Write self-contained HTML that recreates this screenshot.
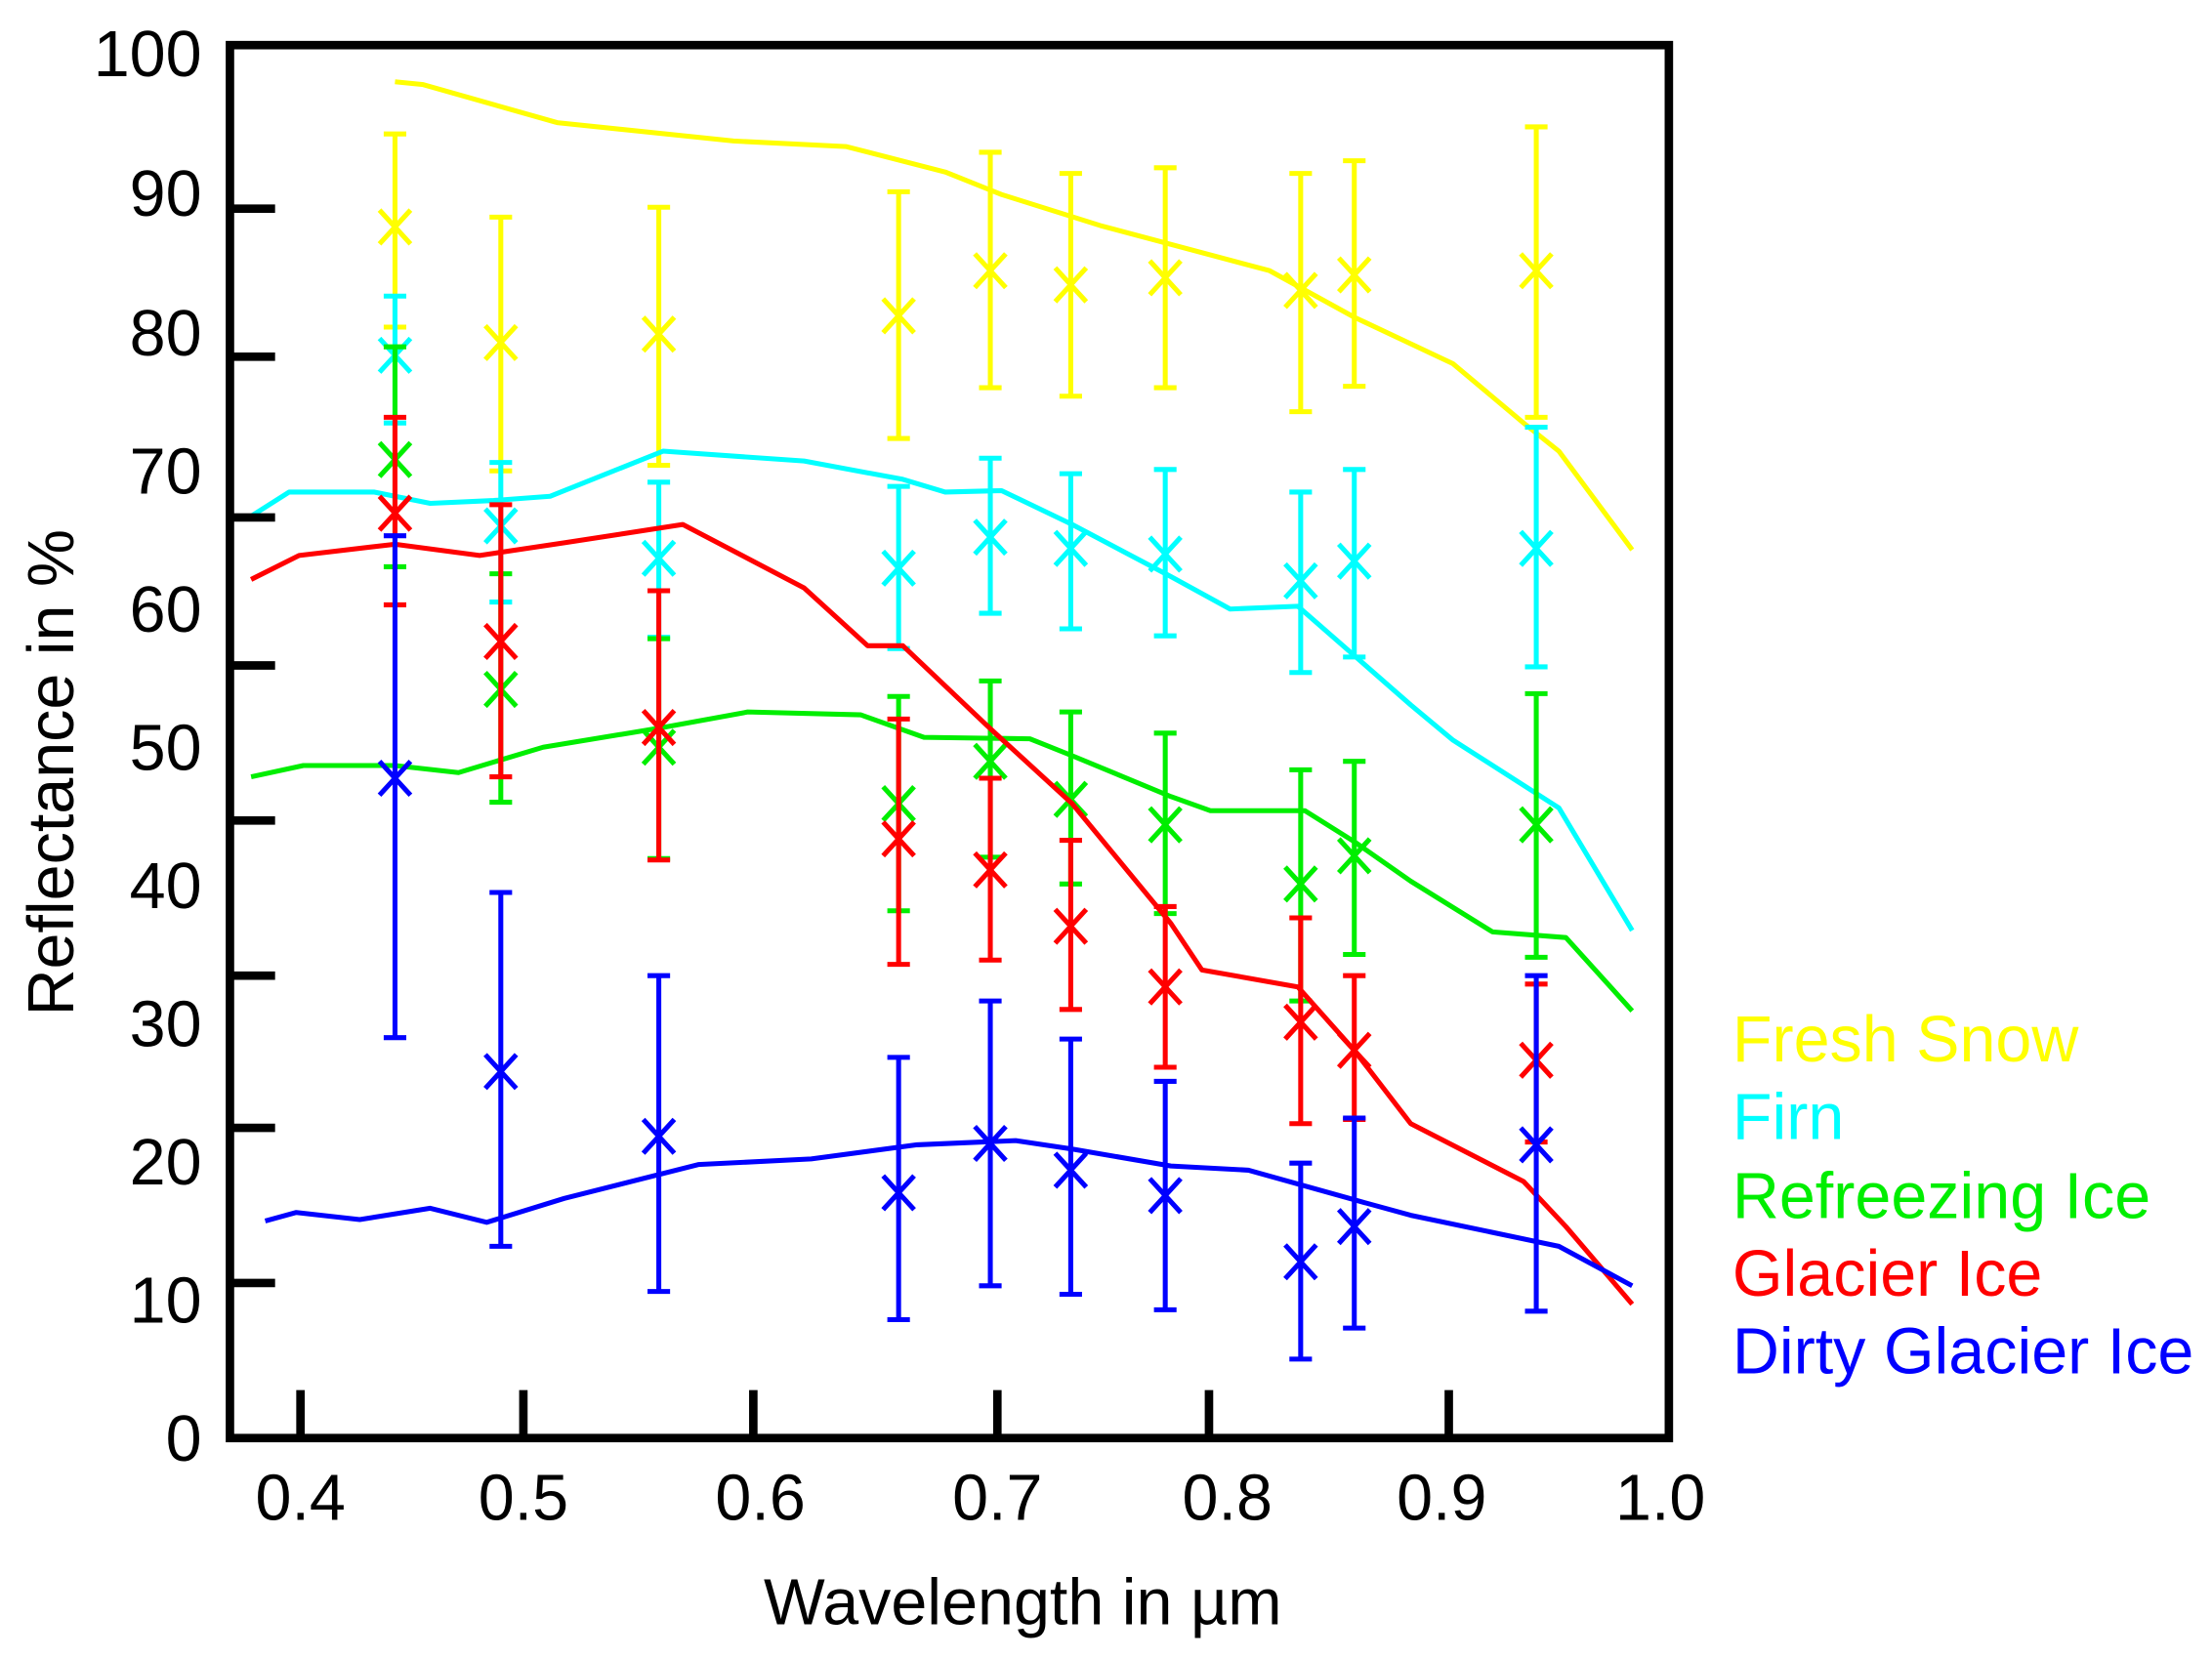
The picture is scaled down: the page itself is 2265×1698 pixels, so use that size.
<!DOCTYPE html>
<html><head><meta charset="utf-8"><style>
html,body{margin:0;padding:0;background:#fff;}
svg{display:block;}
text{font-family:"Liberation Sans",Arial,sans-serif;}
</style></head><body>
<svg id="s" width="2265" height="1698" viewBox="0 0 1568 1176" preserveAspectRatio="none" xmlns="http://www.w3.org/2000/svg">
<rect width="1568" height="1176" fill="#fff"/>
<g id="data" fill="none" stroke-width="3.5" stroke-linejoin="round"></g>
<rect x="163" y="32" width="1020" height="988" fill="none" stroke="#000" stroke-width="6"/>
<g stroke="#000" stroke-width="6">
<line x1="163" y1="148" x2="195" y2="148"/><line x1="163" y1="253" x2="195" y2="253"/>
<line x1="163" y1="367" x2="195" y2="367"/><line x1="163" y1="472" x2="195" y2="472"/>
<line x1="163" y1="582" x2="195" y2="582"/><line x1="163" y1="692" x2="195" y2="692"/>
<line x1="163" y1="800" x2="195" y2="800"/><line x1="163" y1="910" x2="195" y2="910"/>
<line x1="213" y1="1020" x2="213" y2="986"/><line x1="371" y1="1020" x2="371" y2="986"/>
<line x1="534" y1="1020" x2="534" y2="986"/><line x1="707" y1="1020" x2="707" y2="986"/>
<line x1="857" y1="1020" x2="857" y2="986"/><line x1="1027" y1="1020" x2="1027" y2="986"/>
</g>
<g font-size="46" text-anchor="end" fill="#000">
<text x="143" y="54">100</text><text x="143" y="153">90</text><text x="143" y="252">80</text>
<text x="143" y="350">70</text><text x="143" y="448">60</text><text x="143" y="546">50</text>
<text x="143" y="644">40</text><text x="143" y="742">30</text><text x="143" y="840">20</text>
<text x="143" y="938">10</text><text x="143" y="1036">0</text>
</g>
<g font-size="46" text-anchor="middle" fill="#000">
<text x="213" y="1078">0.4</text><text x="371" y="1078">0.5</text><text x="539" y="1078">0.6</text>
<text x="707" y="1078">0.7</text><text x="870" y="1078">0.8</text><text x="1022" y="1078">0.9</text>
<text x="1177" y="1078">1.0</text>
</g>
<text x="725" y="1152" font-size="46" text-anchor="middle">Wavelength in µm</text>
<text transform="translate(52,548) rotate(-90)" font-size="46" text-anchor="middle">Reflectance in %</text>
<g font-size="46">
<text x="1228" y="753" fill="#ffff00">Fresh Snow</text>
<text x="1228" y="808" fill="#00ffff">Firn</text>
<text x="1228" y="864" fill="#00ee00">Refreezing Ice</text>
<text x="1228" y="919" fill="#ff0000">Glacier Ice</text>
<text x="1228" y="974" fill="#0000ff">Dirty Glacier Ice</text>
</g>
</svg>
<script>
var xs=[280,355,467,637,702,759,826,922,960,1089];
var S=[
["#ffff00","280,58 300,60 395,87 520,100 600,104 670,122 710,138 780,160 900,192 960,225 1030,258 1080,300 1105,320 1157,390",
[[161,95,232],[243,154,334],[237,147,330],[224,136,311],[192,108,275],[202,123,281],[197,119,275],[206,123,292],[195,114,274],[192,90,296]]],
["#00ffff","175,368 205,349 265,349 305,357 350,355 390,352 470,320 570,327 640,340 670,349 710,348 760,372 830,409 872,432 920,430 960,465 1000,500 1030,525 1105,573 1157,660",
[[252,210,300],[373,328,427],[396,342,452],[403,345,460],[381,325,435],[389,336,446],[393,333,451],[412,349,477],[398,333,466],[389,303,473]]],
["#00ee00","178,551 215,543 280,543 325,548 385,530 470,516 530,505 610,507 655,523 730,524 760,536 830,565 858,575 925,575 960,597 1000,625 1058,661 1110,665 1157,717",
[[326,246,402],[489,407,569],[530,453,609],[570,494,646],[540,483,608],[567,505,627],[585,520,648],[627,546,710],[607,540,677],[585,492,679]]],
["#ff0000","178,411 212,394 280,386 340,394 400,385 484,372 570,417 615,458 640,458 700,515 760,570 830,655 852,688 920,700 960,745 1000,797 1080,838 1110,870 1157,925",
[[364,296,429],[455,358,551],[516,419,610],[595,510,684],[617,552,681],[657,596,716],[700,643,757],[725,651,797],[745,692,794],[752,698,810]]],
["#0000ff","188,866 210,860 255,865 305,857 345,867 400,850 495,826 575,822 650,812 720,809 760,815 830,827 885,830 960,851 1000,862 1105,884 1157,912",
[[552,380,736],[760,633,884],[806,692,916],[846,750,936],[811,710,912],[830,737,918],[848,767,929],[895,825,964],[870,793,942],[812,692,930]]]
];
var g=document.getElementById('data'),h='';
S.forEach(function(s){
 h+='<polyline points="'+s[1]+'" stroke="'+s[0]+'"/>';
 s[2].forEach(function(e,i){var x=xs[i],c=e[0],t=e[1],b=e[2],k=s[0];
  h+='<path stroke="'+k+'" d="M'+x+' '+t+'V'+b+'M'+(x-8)+' '+t+'H'+(x+8)+'M'+(x-8)+' '+b+'H'+(x+8)+
  'M'+(x-11)+' '+(c-12)+'L'+(x+11)+' '+(c+12)+'M'+(x-11)+' '+(c+12)+'L'+(x+11)+' '+(c-12)+'"/>';});
});
g.innerHTML=h;
</script>
</body></html>
